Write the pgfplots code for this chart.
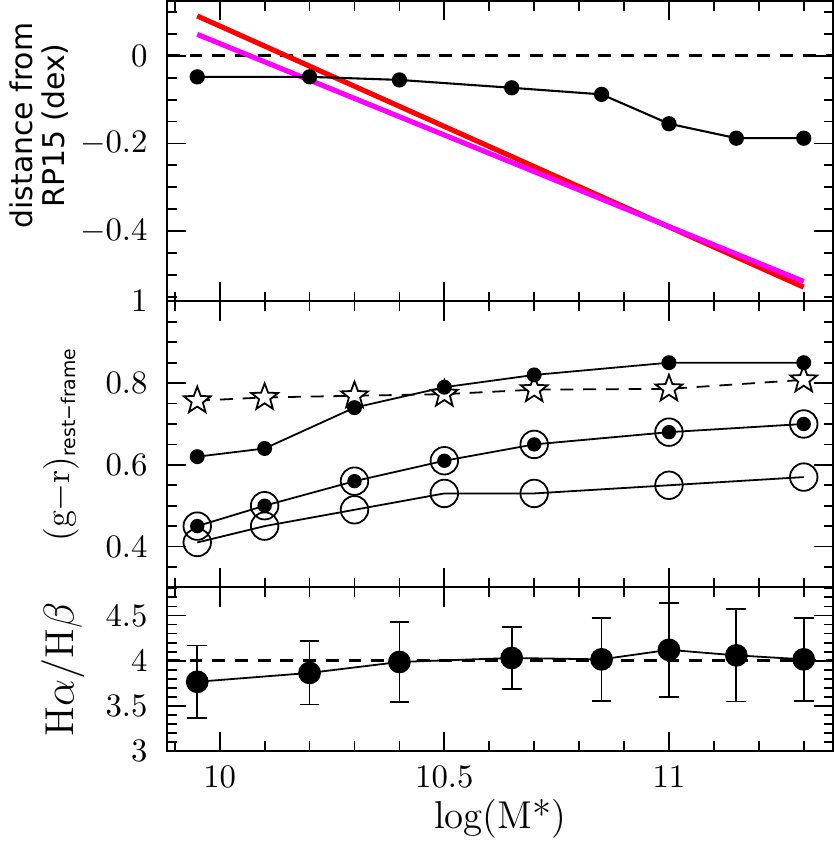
\documentclass[border=0pt]{standalone}
\usepackage{fontspec}
\setsansfont{DejaVu Sans}
\usepackage{amsmath}
\usepackage{pgfplots}
\usepackage{pgfplotstable}
\pgfplotsset{compat=1.18}
\definecolor{fitred}{RGB}{255,0,0}
\definecolor{fitmag}{RGB}{255,0,255}

% open five-pointed star, white inside
\pgfdeclareplotmark{ostar}{%
  \pgfpathmoveto{\pgfpointpolar{90}{\pgfplotmarksize}}%
  \pgfpathlineto{\pgfpointpolar{126}{0.42\pgfplotmarksize}}%
  \pgfpathlineto{\pgfpointpolar{162}{\pgfplotmarksize}}%
  \pgfpathlineto{\pgfpointpolar{198}{0.42\pgfplotmarksize}}%
  \pgfpathlineto{\pgfpointpolar{234}{\pgfplotmarksize}}%
  \pgfpathlineto{\pgfpointpolar{270}{0.42\pgfplotmarksize}}%
  \pgfpathlineto{\pgfpointpolar{306}{\pgfplotmarksize}}%
  \pgfpathlineto{\pgfpointpolar{342}{0.42\pgfplotmarksize}}%
  \pgfpathlineto{\pgfpointpolar{18}{\pgfplotmarksize}}%
  \pgfpathlineto{\pgfpointpolar{54}{0.42\pgfplotmarksize}}%
  \pgfpathclose
  \pgfusepathqfillstroke}

% top panel: distance from RP15
\pgfplotstableread{
x      d
9.95  -0.048
10.2  -0.048
10.4  -0.055
10.65 -0.073
10.85 -0.088
11.0  -0.155
11.15 -0.188
11.3  -0.188
}\distdata

% middle panel: rest-frame colours
\pgfplotstableread{
x     dots  stars  cdots  open
9.95  0.62  0.757  0.45   0.41
10.1  0.64  0.765  0.50   0.45
10.3  0.74  0.769  0.56   0.49
10.5  0.79  0.773  0.61   0.53
10.7  0.82  0.784  0.65   0.53
11.0  0.85  0.786  0.68   0.55
11.3  0.85  0.808  0.70   0.57
}\colourdata

% bottom panel: Balmer decrement
\pgfplotstableread{
x     y      e
9.95  3.767  0.40
10.2  3.865  0.35
10.4  3.986  0.44
10.65 4.030  0.345
10.85 4.015  0.458
11.0  4.120  0.52
11.15 4.059  0.51
11.3  4.015  0.458
}\balmerdata

\pgfplotsset{
  panel/.style={
    scale only axis, width=223pt,
    xmin=9.8825, xmax=11.366,
    xtick={10,10.5,11},
    minor xtick={9.9,10.1,10.2,10.3,10.4,10.6,10.7,10.8,10.9,11.1,11.2,11.3},
    tick align=inside, tick pos=both,
    major tick length=6.5pt, minor tick length=3.3pt,
    every tick/.style={black, line width=0.6pt},
    axis line style={line width=0.7pt},
    tick label style={font=\fontsize{10.5}{12}\selectfont},
    yticklabel style={xshift=-3pt},
    xticklabel style={yshift=-1.7pt},
  },
}

\begin{document}
\begin{tikzpicture}
\begin{axis}[panel, name=top, height=100.5pt,
    ymin=-0.5605, ymax=0.125,
    ytick={-0.4,-0.2,0},
    minor ytick={-0.55,-0.5,-0.45,-0.35,-0.3,-0.25,-0.15,-0.1,-0.05,0.05,0.1},
    xticklabels={},
    ylabel={distance from\\RP15 (dex)},
    ylabel style={align=center, font=\sffamily\fontsize{10}{10.5}\selectfont,
        at={(axis description cs:-0.192,0.585)}, anchor=center},
]
\addplot[black, line width=1pt, dash pattern=on 4.3pt off 3.3pt] coordinates {(9.8825,0) (11.366,0)};
\addplot[fitred, line width=1.7pt] coordinates {(9.95,0.091) (11.3,-0.528)};
\addplot[fitmag, line width=1.7pt] coordinates {(9.95,0.049) (11.3,-0.515)};
\addplot[black, line width=0.7pt, mark=*, mark size=2.2pt] table[x=x, y=d] {\distdata};
\end{axis}

\begin{axis}[panel, name=mid, at={(top.south west)}, anchor=north west, height=95.7pt,
    ymin=0.3, ymax=1.0,
    ytick={0.4,0.6,0.8,1},
    minor ytick={0.35,0.45,0.5,0.55,0.65,0.7,0.75,0.85,0.9,0.95},
    xticklabels={},
    ylabel={$(\mathrm{g}{-}\mathrm{r})_{\text{\sffamily\fontsize{6.3}{7}\selectfont rest−frame}}$},
    ylabel style={font=\fontsize{11.5}{13}\selectfont,
        at={(axis description cs:-0.159,0.5)}, anchor=center},
]
\addplot[black, line width=0.6pt, dash pattern=on 4.3pt off 3.3pt,
    mark=ostar, mark size=4.7pt, mark options={solid, fill=white, draw=black}]
    table[x=x, y=stars] {\colourdata};
\addplot[black, line width=0.6pt, mark=o, mark size=4.6pt, mark options={line width=0.6pt}]
    table[x=x, y=open] {\colourdata};
\addplot[black, line width=0.6pt, mark=o, mark size=4.6pt, mark options={line width=0.6pt}]
    table[x=x, y=cdots] {\colourdata};
\addplot[black, only marks, mark=*, mark size=2.2pt] table[x=x, y=cdots] {\colourdata};
\addplot[black, line width=0.6pt, mark=*, mark size=2.2pt] table[x=x, y=dots] {\colourdata};
\end{axis}

\begin{axis}[panel, name=bot, at={(mid.south west)}, anchor=north west, height=54.8pt,
    ymin=3, ymax=4.81,
    ytick={3,3.5,4,4.5},
    minor ytick={3.1,3.2,3.3,3.4,3.6,3.7,3.8,3.9,4.1,4.2,4.3,4.4,4.6,4.7,4.8},
    xlabel={log(M*)},
    xlabel style={font=\fontsize{13}{15}\selectfont,
        at={(axis description cs:0.5,0)}, anchor=base, yshift=-25.8pt},
    ylabel={$\mathrm{H}\alpha/\mathrm{H}\beta$},
    ylabel style={font=\fontsize{13.5}{15}\selectfont,
        at={(axis description cs:-0.156,0.5)}, anchor=center},
]
\addplot[black, line width=0.9pt, dash pattern=on 4.3pt off 3.3pt] coordinates {(9.8825,4) (11.366,4)};
\addplot[black, line width=0.6pt, mark=*, mark size=3.5pt,
    error bars/.cd, y dir=both, y explicit,
    error bar style={line width=0.6pt},
    error mark options={rotate=90, mark size=3.3pt, line width=0.6pt}]
    table[x=x, y=y, y error=e] {\balmerdata};
\end{axis}
\end{tikzpicture}
\end{document}
